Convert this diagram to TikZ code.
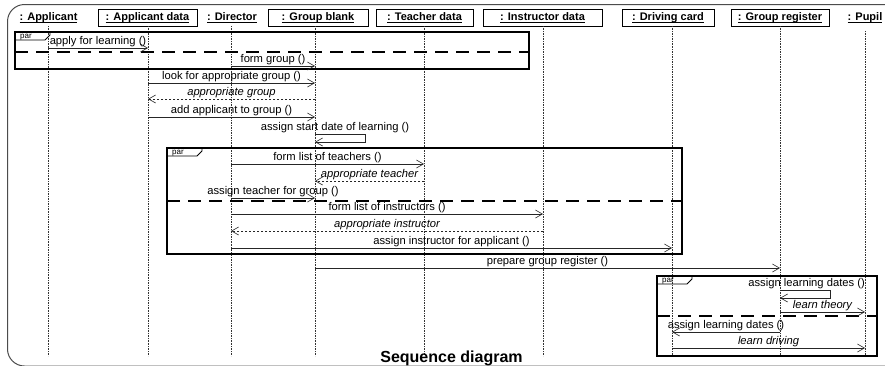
\documentclass[tikz,border=0pt]{standalone}
\usepackage{fontspec}
\setmainfont{Liberation Sans}
\usetikzlibrary{arrows.meta,calc}
\newcommand\myul[1]{\leavevmode\setbox0=\hbox{#1}\rlap{\vrule width\wd0 height -1.3pt depth 2.1pt}\box0}
\begin{document}
\begin{tikzpicture}[x=1pt,y=-1pt,
  lbl/.style={font=\fontsize{11.2}{12}\selectfont, inner sep=0pt, anchor=base, yshift=3.5pt},
  ilbl/.style={lbl, font=\fontsize{11.2}{12}\selectfont\itshape},
  msg/.style={draw=black!85, line width=0.6pt, -{Straight Barb[length=7pt,width=8pt]}},
  ret/.style={msg, dash pattern=on 2.5pt off 1.5pt},
  life/.style={draw=black!80, line width=0.65pt, densely dotted},
  hbox/.style={draw, line width=0.7pt, minimum height=17pt, inner sep=0pt},
  htext/.style={font=\bfseries\fontsize{11}{12}\selectfont, inner sep=0pt},
  fragbox/.style={draw, line width=1.3pt},
  fragsep/.style={line width=1.3pt, dash pattern=on 13pt off 8pt},
  partag/.pic={
    \draw[line width=0.8pt] (0,0) -- (35,0) -- (35,3) -- (30,8) -- (0,8);
    \node[font=\fontsize{8}{8}\selectfont, anchor=base west, inner sep=0pt] at (5,6.5) {par};
  }
]
\clip (0,0) rectangle (885,365);
\useasboundingbox (0,0) rectangle (885,365);
\fill[white] (0,0) rectangle (885,365);
% outer frame
\draw[black!70, line width=1pt, rounded corners=17pt] (7.5,4.5) rectangle (910,366);

% headers
\node[htext] (hA) at (48.5,17.5) {\myul{: Applicant}};
\node[hbox, htext, minimum width=99pt] (hAD) at (147.5,17.5) {\myul{: Applicant data}};
\node[htext] (hD) at (232,17.5) {\myul{: Director}};
\node[hbox, htext, minimum width=100pt] (hG) at (318,17.5) {\myul{: Group blank}};
\node[hbox, htext, minimum width=97pt] (hT) at (424.5,17.5) {\myul{: Teacher data}};
\node[hbox, htext, minimum width=119pt] (hI) at (542.5,17.5) {\myul{: Instructor data}};
\node[hbox, htext, minimum width=92pt] (hDC) at (668,17.5) {\myul{: Driving card}};
\node[hbox, htext, minimum width=98pt] (hGR) at (780,17.5) {\myul{: Group register}};
\node[htext] (hP) at (865,17.5) {\myul{: Pupil}};

% lifeline tops
\coordinate (lA) at (48,26);
\coordinate (lAD) at (148,26);
\coordinate (lD) at (231,26);
\coordinate (lG) at (315,26);
\coordinate (lT) at (424,26);
\coordinate (lI) at (543,26);
\coordinate (lDC) at (672,26);
\coordinate (lGR) at (780,26);
\coordinate (lP) at (865,31);
\coordinate (bot) at (0,356);
\foreach \l in {lA,lAD,lD,lG,lT,lI,lDC,lGR,lP}
  \draw[life] (\l) -- (\l |- bot);

% fragments
\draw[fragbox] (15,32) rectangle (529,69);
\draw[fragsep] (15,52) -- (529,52);
\pic at (15,32) {partag};
\draw[fragbox] (167,148) rectangle (682,254);
\draw[fragsep] (167,201) -- (682,201);
\pic at (167,148) {partag};
\draw[fragbox] (657,276) rectangle (877,356);
\draw[fragsep] (657,316) -- (877,316);
\pic at (657,276) {partag};

% rows
\coordinate (r1) at (0,48);
\coordinate (r2) at (0,66);
\coordinate (r3) at (0,83);
\coordinate (r4) at (0,99);
\coordinate (r5) at (0,117);
\coordinate (r6) at (0,134);
\coordinate (r6b) at (0,142);
\coordinate (r7) at (0,164);
\coordinate (r8) at (0,181);
\coordinate (r9) at (0,198);
\coordinate (r10) at (0,214);
\coordinate (r11) at (0,231);
\coordinate (r12) at (0,248);
\coordinate (r13) at (0,268);
\coordinate (r14) at (0,290);
\coordinate (r14b) at (0,298);
\coordinate (r15) at (0,312);
\coordinate (r16) at (0,332);
\coordinate (r17) at (0,348);

% messages
\draw[msg] (lA |- r1) -- (lAD |- r1) node[lbl, midway] {apply for learning ()};
\draw[msg] (lD |- r2) -- (lG |- r2) node[lbl, midway] {form group ()};
\draw[msg] (lAD |- r3) -- (lG |- r3) node[lbl, midway] {look for appropriate group ()};
\draw[ret] (lG |- r4) -- (lAD |- r4) node[ilbl, midway] {appropriate group};
\draw[msg] (lAD |- r5) -- (lG |- r5) node[lbl, midway] {add applicant to group ()};
\draw[msg] (lG |- r6) -- ++(50,0) -- ++(0,8) -- (lG |- r6b);
\node[lbl, anchor=base] (s6) at ($(lG |- r6)+(20,-0.5)$) {assign start date of learning ()};
\draw[msg] (lD |- r7) -- (lT |- r7) node[lbl, midway] {form list of teachers ()};
\draw[ret] (lT |- r8) -- (lG |- r8) node[ilbl, midway] {appropriate teacher};
\draw[msg] (lD |- r9) -- (lG |- r9) node[lbl, midway] {assign teacher for group ()};
\draw[msg] (lD |- r10) -- (lI |- r10) node[lbl, midway] {form list of instructors ()};
\draw[ret] (lI |- r11) -- (lD |- r11) node[ilbl, midway] {appropriate instructor};
\draw[msg] (lD |- r12) -- (lDC |- r12) node[lbl, midway] {assign instructor for applicant ()};
\draw[msg] (lG |- r13) -- (lGR |- r13) node[lbl, midway] {prepare group register ()};
\draw[msg] (lGR |- r14) -- ++(50,0) -- ++(0,8) -- (lGR |- r14b);
\node[lbl, anchor=base east] (s14) at ($(lP |- r14)+(0,-0.5)$) {assign learning dates ()};
\draw[msg] (lGR |- r15) -- (lP |- r15) node[ilbl, midway] {learn theory};
\draw[msg] (lGR |- r16) -- (lDC |- r16) node[lbl, midway] {assign learning dates ()};
\draw[msg] (lDC |- r17) -- (lP |- r17) node[ilbl, midway] {learn driving};

% title
\node[font=\bfseries\fontsize{16}{18}\selectfont, anchor=base, inner sep=0pt] (title) at (451.5,362) {Sequence diagram};
\end{tikzpicture}
\end{document}
